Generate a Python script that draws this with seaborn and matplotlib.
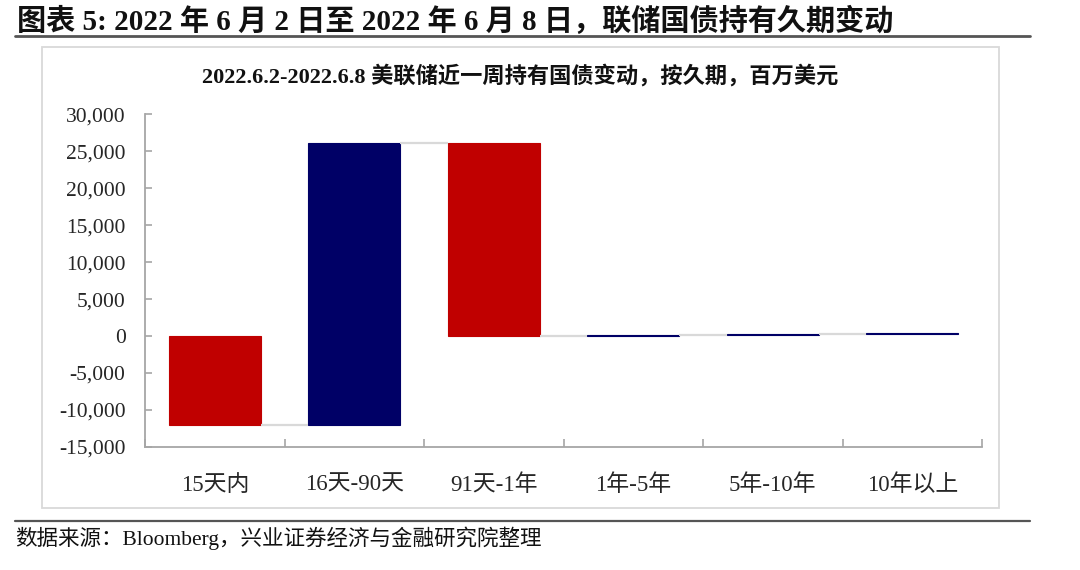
import numpy as np
import pandas as pd
import matplotlib
matplotlib.use("Agg")
import matplotlib.pyplot as plt
from matplotlib.lines import Line2D
from matplotlib.patches import Rectangle
from matplotlib.ticker import FuncFormatter
import seaborn as sns

# ---- data (百万美元) ----
categories = ["15天内", "16天-90天", "91天-1年", "1年-5年", "5年-10年", "10年以上"]
changes = [-12000, 38100, -26100, 150, 120, 180]
yticks = [-15000, -10000, -5000, 0, 5000, 10000, 15000, 20000, 25000, 30000]

main_title = "图表 5: 2022 年 6 月 2 日至 2022 年 6 月 8 日，联储国债持有久期变动"
chart_title = "2022.6.2-2022.6.8 美联储近一周持有国债变动，按久期，百万美元"
source_text = "数据来源：Bloomberg，兴业证券经济与金融研究院整理"

# waterfall bases
ends = np.cumsum(changes)
starts = ends - np.array(changes)

sns.set_theme(style="white")
FAM = ["Liberation Serif", "Noto Sans CJK SC", "DejaVu Sans"]
plt.rcParams["font.family"] = FAM
plt.rcParams["axes.unicode_minus"] = False

fig = plt.figure(figsize=(10.8, 5.7), dpi=100)
ax = fig.add_axes([0.1343, 0.2158, 0.775, 0.584])

df = pd.DataFrame({"cat": categories, "chg": changes})
sns.barplot(data=df, x="cat", y="chg", ax=ax, order=categories, errorbar=None,
            width=0.66, bottom=starts, color="#000066", saturation=1,
            linewidth=0.8)

RED, NAVY = "#C00000", "#000066"
for p, c in zip(ax.patches, changes):
    col = RED if c < 0 else NAVY
    p.set_facecolor(col)
    p.set_edgecolor(col)

# connectors
for i in range(len(categories) - 1):
    ax.hlines(ends[i], i + 0.33, i + 1 - 0.33, color="#d9d9d9", lw=1.6, zorder=1)

ax.set_xlim(-0.5, len(categories) - 0.5)
ax.set_ylim(-15000, 30000)
ax.set_yticks(yticks)
ax.yaxis.set_major_formatter(FuncFormatter(lambda v, p: f"{v:,.0f}"))
ax.set_xlabel("")
ax.set_ylabel("")

ax.set_xticks(range(len(categories)))
ax.set_xticklabels(categories)
ax.set_xticks(np.arange(-0.5, len(categories)), minor=True)
ax.tick_params(axis="x", which="major", length=0, pad=20, labelsize=16.5, colors="#262626")
ax.tick_params(axis="x", which="minor", direction="in", length=6, width=1.2,
               color="#a6a6a6", bottom=True)
ax.tick_params(axis="y", direction="in", length=5, width=1.2, color="#a6a6a6",
               labelsize=15.5, pad=14, labelcolor="#262626", left=True)
for lab in ax.get_xticklabels() + ax.get_yticklabels():
    lab.set_family(FAM)

for s in ["top", "right"]:
    ax.spines[s].set_visible(False)
for s in ["left", "bottom"]:
    ax.spines[s].set_color("#a6a6a6")
    ax.spines[s].set_linewidth(1.3)

# figure decorations
fig.text(0.016, 0.962, main_title, fontsize=21, fontweight="bold", ha="left", va="center",
         family=FAM, color="#111111")
fig.add_artist(Line2D([0.014, 0.954], [0.937, 0.937], color="#555555", lw=2))
fig.add_artist(Rectangle((0.039, 0.109), 0.886, 0.8085, fill=False, edgecolor="#d9d9d9", lw=1.3))
fig.text(0.482, 0.866, chart_title, fontsize=16, fontweight="bold", ha="center", va="center",
         family=FAM, color="#111111")
fig.add_artist(Line2D([0.014, 0.954], [0.086, 0.086], color="#555555", lw=1.6))
fig.text(0.014, 0.056, source_text, fontsize=15.5, ha="left", va="center", family=FAM, color="#111111")

fig.savefig("out.png", dpi=100)
